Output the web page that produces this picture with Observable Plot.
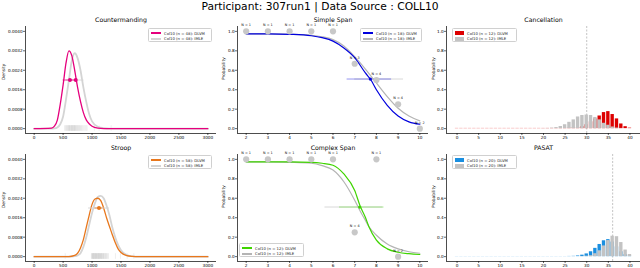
<!DOCTYPE html>
<html><head><meta charset="utf-8">
<script src="https://cdn.jsdelivr.net/npm/d3@7"></script>
<script src="https://cdn.jsdelivr.net/npm/@observablehq/plot@0.6"></script>
<style>
body{margin:0;background:#fff;font-family:"DejaVu Sans",sans-serif;}
#root{position:relative;width:640px;height:268px;overflow:hidden;background:#fff;}
.panel{position:absolute;}
.title{position:absolute;left:0;top:0;width:640px;text-align:center;font-size:10.7px;line-height:13px;color:#000;}
.legend{position:absolute;box-sizing:border-box;height:14px;padding:1.3px 2px;border:0.5px solid #d0d0d0;border-radius:1.5px;background:rgba(255,255,255,0.9);}
.legend .row{display:flex;align-items:center;height:5.7px;white-space:nowrap;font-size:3.8px;color:#222;}
.legend .sw{width:10px;margin-right:3px;flex:none;}
</style></head>
<body><div id="root"></div>
<script>
// ---------------- data ----------------
const mainTitle = "Participant: 307run1 | Data Source : COLL10";
const panelTitles = ["Countermanding", "Simple Span", "Cancellation", "Stroop", "Complex Span", "PASAT"];
const legendLabels = {
  cm: ["Col10 (n = 48): DLVM", "Col10 (n = 48): IMLE"],
  ss: ["Col10 (n = 18): DLVM", "Col10 (n = 18): IMLE"],
  ca: ["Col10 (n = 12): DLVM", "Col10 (n = 12): IMLE"],
  st: ["Col10 (n = 58): DLVM", "Col10 (n = 58): IMLE"],
  cs: ["Col10 (n = 12): DLVM", "Col10 (n = 12): IMLE"],
  pa: ["Col10 (n = 20): DLVM", "Col10 (n = 20): IMLE"]
};
const rtTicks = [0, 500, 1000, 1500, 2000, 2500, 3000];
const densityTicks = [0, 0.0008, 0.0016, 0.0024, 0.0032, 0.0040];
const spanTicks = [2, 3, 4, 5, 6, 7, 8, 9, 10];
const probTicks = [0, 0.2, 0.4, 0.6, 0.8, 1.0];
const scoreTicks = [0, 5, 10, 15, 20, 25, 30, 35, 40];

// Countermanding densities
const cmGrid = [0, 300, 350, 400, 450, 500, 550, 600, 650, 700, 750, 800, 850, 900, 950, 1000, 1100, 1200, 1300, 3000];
const cmDLVM = [0, 0.00002, 0.0001, 0.00035, 0.001, 0.0018, 0.0027, 0.0032, 0.003, 0.0024, 0.0017, 0.00112, 0.00066, 0.00036, 0.0002, 0.0001, 0.00002, 0, 0, 0];
const cmIMLE = [0, 0, 0.00001, 0.00005, 0.00018, 0.0005, 0.0012, 0.002, 0.0028, 0.0031, 0.0029, 0.0024, 0.0017, 0.0011, 0.0006, 0.0003, 0.00008, 0.00002, 0, 0];
const cmRT = [525, 540, 552, 560, 571, 580, 588, 597, 603, 605, 611, 618, 626, 633, 640, 646, 652, 655, 660, 667, 673, 680, 688, 694, 700, 701, 709, 716, 724, 733, 741, 750, 758, 768, 777, 786, 796, 806, 818, 830, 845, 862, 880, 898, 914, 1040, 1122, 1330];
const cmErr = [{model: "IMLE", lo: 560, hi: 860, y: 0.002}, {model: "DLVM", lo: 500, hi: 730, y: 0.002}];
const cmMean = [{x: 618, y: 0.002}, {x: 718, y: 0.002}];

// Stroop densities
const stGrid = [0, 600, 700, 750, 800, 850, 900, 950, 1000, 1050, 1100, 1150, 1200, 1250, 1300, 1350, 1400, 1450, 1500, 1600, 1700, 1800, 3000];
const stDLVM = [0, 0, 0.00005, 0.00014, 0.00036, 0.0007, 0.0012, 0.0017, 0.00215, 0.00237, 0.0024, 0.0023, 0.002, 0.0016, 0.00125, 0.0009, 0.00058, 0.00032, 0.00017, 0.00004, 0.00001, 0, 0];
const stIMLE = [0, 0, 0.00002, 0.00005, 0.00014, 0.0004, 0.0008, 0.0013, 0.0018, 0.0022, 0.00245, 0.0025, 0.0024, 0.0021, 0.0017, 0.0012, 0.0008, 0.00048, 0.00026, 0.00006, 0.00001, 0, 0];
const stRT = [537, 988, 995, 1001, 1008, 1011, 1013, 1019, 1024, 1027, 1030, 1036, 1041, 1047, 1052, 1055, 1058, 1063, 1069, 1074, 1078, 1080, 1086, 1091, 1097, 1103, 1108, 1111, 1114, 1120, 1126, 1132, 1135, 1138, 1144, 1150, 1157, 1160, 1163, 1170, 1177, 1184, 1191, 1195, 1199, 1207, 1216, 1225, 1235, 1240, 1246, 1258, 1270, 1283, 1404, 1491, 1607, 1722];
const stErr = [{model: "IMLE", lo: 940, hi: 1300, y: 0.002}, {model: "DLVM", lo: 1050, hi: 1190, y: 0.002}];
const stMean = [{x: 1120, y: 0.002}];

// Simple Span
const ssGrid = [2, 3, 4, 5, 5.5, 6, 6.5, 7, 7.5, 7.75, 8, 8.5, 9, 9.5, 10];
const ssDLVM = [0.975, 0.975, 0.97, 0.955, 0.935, 0.9, 0.83, 0.73, 0.57, 0.5, 0.4, 0.24, 0.13, 0.07, 0.045];
const ssIMLE = [0.975, 0.975, 0.97, 0.96, 0.945, 0.915, 0.85, 0.74, 0.61, 0.54, 0.47, 0.33, 0.21, 0.13, 0.08];
const ssSpan = [2, 3, 4, 5, 6, 7, 8, 9, 10];
const ssProp = [1, 1, 1, 1, 1, 0.667, 0.5, 0.25, 0];
const ssN = [1, 1, 1, 1, 1, 3, 4, 4, 2];
const ssErr = [{model: "IMLE", lo: 7.0, hi: 9.25, y: 0.51}, {model: "DLVM", lo: 6.65, hi: 8.7, y: 0.51}];
const ssMean = [{x: 7.72, y: 0.51}];

// Complex Span
const csGrid = [2, 3, 4, 5, 5.5, 6, 6.5, 7, 7.25, 7.5, 7.65, 8, 8.5, 9, 9.5, 10];
const csDLVM = [0.975, 0.975, 0.975, 0.97, 0.96, 0.94, 0.85, 0.68, 0.52, 0.4, 0.31, 0.17, 0.08, 0.045, 0.03, 0.022];
const csIMLE = [0.975, 0.975, 0.97, 0.96, 0.935, 0.89, 0.77, 0.58, 0.47, 0.37, 0.31, 0.22, 0.13, 0.08, 0.05, 0.035];
const csSpan = [2, 3, 4, 5, 6, 7, 8, 9];
const csProp = [1, 1, 1, 1, 1, 0.25, 1, 0];
const csN = [1, 1, 1, 1, 1, 4, 1, 2];
const csErr = [{model: "IMLE", lo: 5.63, hi: 8.3, y: 0.51}, {model: "DLVM", lo: 6.3, hi: 8.35, y: 0.51}];
const csMean = [{x: 7.23, y: 0.51}];

// Cancellation (probability per score 0..40)
const scores = d3.range(0, 41);
const caDLVM = [0.002,0.002,0.002,0.002,0.002,0.002,0.002,0.002,0.002,0.002,0.002,0.002,0.002,0.002,0.002,0.002,0.002,0.002,0.002,0.002,0.002,0.002,0.002,0.002,0.002,0.003,0.004,0.006,0.01,0.02,0.04,0.07,0.1,0.13,0.165,0.175,0.145,0.1,0.048,0.02,0.005];
const caIMLE = [0,0,0,0,0,0,0,0,0,0,0,0,0,0,0,0,0,0,0,0,0.001,0.002,0.005,0.011,0.022,0.04,0.065,0.09,0.12,0.135,0.14,0.135,0.115,0.09,0.055,0.035,0.017,0.006,0.002,0,0];
const caCut = 30;
// PASAT
const paDLVM = [0.001,0.001,0.001,0.001,0.001,0.001,0.001,0.001,0.001,0.001,0.001,0.001,0.001,0.001,0.001,0.001,0.001,0.001,0.001,0.001,0.001,0.001,0.001,0.001,0.001,0.001,0.002,0.003,0.007,0.015,0.028,0.05,0.085,0.125,0.163,0.175,0.15,0.1,0.05,0.02,0.005];
const paIMLE = [0,0,0,0,0,0,0,0,0,0,0,0,0,0,0,0,0,0,0,0,0,0,0,0,0,0,0,0,0,0.002,0.005,0.01,0.03,0.06,0.11,0.165,0.21,0.205,0.145,0.068,0.022];
const paCut = 36;

// ---------------- styles / layout ----------------
const C = {cm: "#e5007d", st: "#e8771c", ss: "#0000dd", cs: "#3fd400", ca: "#dd0000", pa: "#1a8fe0"};
const GRAY_D = "#d4d4d4", GRAY_S = "#b4b4b4", GRAY_B = "#c3c3c3", GRAY_P = "#c8c8c8";
const FONT = "DejaVu Sans";
const rugLo = -0.00011, rugHi = 0.00012, barHalf = 0.39;
const rowTop = [12, 140], rowH = [130, 128], rowMB = [9, 7];
const cols = [
  {left: 0, width: 218, ml: 25, mr: 2},
  {left: 213, width: 217, ml: 24, mr: 2},
  {left: 424, width: 216, ml: 22, mr: 0}
];
const densDom = [-0.0002, 0.0042], probDom = [-0.05, 1.05];
const rtDom = [-150, 3150], spanDom = [1.6, 10.4], scoreDom = [-2.44, 42.44];

const root = document.getElementById("root");
const t = document.createElement("div"); t.className = "title"; t.textContent = mainTitle; root.appendChild(t);

function common(title, ylab, ydx, xDom, yDom, xt, yt, yfmt) {
  return [
    Plot.ruleY([yDom[0]], {stroke: "#000", strokeWidth: 0.7}),
    Plot.ruleX([xDom[0]], {stroke: "#000", strokeWidth: 0.7}),
    Plot.axisX({ticks: xt, tickSize: 2, tickPadding: 0.8, fontSize: 4.2, tickFormat: d => String(d), label: null, strokeWidth: 0.6}),
    Plot.axisY({ticks: yt, tickSize: 2, tickPadding: 0.8, fontSize: 4.2, tickFormat: yfmt, label: null, strokeWidth: 0.6}),
    Plot.text([title], {frameAnchor: "top", dy: -6, fontSize: 6.2, lineAnchor: "middle", fill: "#000"}),
    Plot.text([ylab], {frameAnchor: "left", dx: ydx, rotate: -90, fontSize: 4.3, fill: "#000"})
  ];
}
function place(svg, col, row) {
  const d = document.createElement("div"); d.className = "panel";
  d.style.left = cols[col].left + "px"; d.style.top = rowTop[row] + "px";
  d.appendChild(svg); root.appendChild(d);
}
function frameOpts(col, row, xDom, yDom) {
  return {width: cols[col].width, height: rowH[row], marginLeft: cols[col].ml, marginRight: cols[col].mr,
    marginTop: 14, marginBottom: rowMB[row], x: {domain: xDom}, y: {domain: yDom},
    style: {background: "transparent", overflow: "visible", fontFamily: FONT}};
}
function density(col, row, title, grid, dl, im, rug, errs, means, color) {
  const a = grid.map((x, i) => ({x, y: dl[i]})), b = grid.map((x, i) => ({x, y: im[i]}));
  const svg = Plot.plot({...frameOpts(col, row, rtDom, densDom), marks: [
    Plot.ruleX(rug, {x: d => d, y1: rugLo, y2: rugHi, stroke: "#c4c4c4", strokeWidth: 0.4, strokeOpacity: 0.7}),
    Plot.line(b, {x: "x", y: "y", stroke: GRAY_D, strokeWidth: 1.8, curve: "monotone-x"}),
    Plot.line(a, {x: "x", y: "y", stroke: color, strokeWidth: 1.3, curve: "monotone-x"}),
    Plot.ruleY(errs.filter(d => d.model === "IMLE"), {y: "y", x1: "lo", x2: "hi", stroke: GRAY_D, strokeWidth: 0.9}),
    Plot.ruleY(errs.filter(d => d.model === "DLVM"), {y: "y", x1: "lo", x2: "hi", stroke: color, strokeWidth: 0.8}),
    Plot.dot(means, {x: "x", y: "y", r: 2, fill: color, stroke: "none"}),
    ...common(title, "Density", -22, rtDom, densDom, rtTicks, densityTicks, d3.format(".4f"))
  ]});
  place(svg, col, row);
}
function span(col, row, title, grid, dl, im, xs, ps, ns, errs, means, color, ydx) {
  const a = grid.map((x, i) => ({x, y: dl[i]})), b = grid.map((x, i) => ({x, y: im[i]}));
  const pts = xs.map((x, i) => ({x, y: ps[i], n: ns[i]}));
  const svg = Plot.plot({...frameOpts(col, row, spanDom, probDom), marks: [
    Plot.ruleY(errs.filter(d => d.model === "IMLE"), {y: "y", x1: "lo", x2: "hi", stroke: "#cfcfcf", strokeWidth: 0.8}),
    Plot.ruleY(errs.filter(d => d.model === "DLVM"), {y: "y", x1: "lo", x2: "hi", stroke: color, strokeWidth: 0.7, strokeOpacity: 0.6}),
    Plot.line(b, {x: "x", y: "y", stroke: GRAY_S, strokeWidth: 1.2, curve: "monotone-x"}),
    Plot.line(a, {x: "x", y: "y", stroke: color, strokeWidth: 1.2, curve: "monotone-x"}),
    Plot.dot(pts, {x: "x", y: "y", r: 3.1, fill: GRAY_P, stroke: "none"}),
    Plot.dot(means, {x: "x", y: "y", r: 1.6, fill: color, stroke: "none"}),
    Plot.text(pts, {x: "x", y: "y", text: d => "N = " + d.n, dy: -6, fontSize: 3.4, fill: "#111", stroke: "none"}),
    ...common(title, "Probability", ydx, spanDom, probDom, spanTicks, probTicks, d3.format(".1f"))
  ]});
  place(svg, col, row);
}
function hist(col, row, title, dl, im, cut, color) {
  const a = scores.map((s, i) => ({s, p: dl[i]})), b = scores.map((s, i) => ({s, p: im[i]})).filter(d => d.p > 0);
  const svg = Plot.plot({...frameOpts(col, row, scoreDom, probDom), marks: [
    Plot.ruleX([cut], {stroke: "#aaa", strokeWidth: 0.7, strokeDasharray: "2,1.5"}),
    Plot.rectY(a, {x1: d => d.s - barHalf, x2: d => d.s + barHalf, y: "p", fill: color, fillOpacity: 1}),
    Plot.rectY(b, {x1: d => d.s - barHalf, x2: d => d.s + barHalf, y: "p", fill: GRAY_B}),
    ...common(title, "Probability", -13, scoreDom, probDom, scoreTicks, probTicks, d3.format(".1f"))
  ]});
  place(svg, col, row);
}
function legend(left, top, width, labels, color, gray, patch) {
  const d = document.createElement("div"); d.className = "legend";
  d.style.left = left + "px"; d.style.top = top + "px"; d.style.width = width + "px";
  [[labels[0], color], [labels[1], gray]].forEach(([lab, c]) => {
    const r = document.createElement("div"); r.className = "row";
    const s = document.createElement("span"); s.className = "sw";
    s.style.height = patch ? "3.4px" : "1.4px"; s.style.background = c;
    if (patch) s.style.width = "9px";
    const tx = document.createElement("span"); tx.textContent = lab;
    r.appendChild(s); r.appendChild(tx); d.appendChild(r);
  });
  root.appendChild(d);
}

density(0, 0, panelTitles[0], cmGrid, cmDLVM, cmIMLE, cmRT, cmErr, cmMean, C.cm);
span(1, 0, panelTitles[1], ssGrid, ssDLVM, ssIMLE, ssSpan, ssProp, ssN, ssErr, ssMean, C.ss, -14);
hist(2, 0, panelTitles[2], caDLVM, caIMLE, caCut, C.ca);
density(0, 1, panelTitles[3], stGrid, stDLVM, stIMLE, stRT, stErr, stMean, C.st);
span(1, 1, panelTitles[4], csGrid, csDLVM, csIMLE, csSpan, csProp, csN, csErr, csMean, C.cs, -14);
hist(2, 1, panelTitles[5], paDLVM, paIMLE, paCut, C.pa);

legend(148, 28, 64, legendLabels.cm, C.cm, GRAY_D, false);
legend(360, 28, 62, legendLabels.ss, C.ss, GRAY_S, false);
legend(452, 28, 65, legendLabels.ca, C.ca, GRAY_B, true);
legend(148, 155, 64, legendLabels.st, C.st, GRAY_D, false);
legend(239, 243, 65, legendLabels.cs, C.cs, GRAY_S, false);
legend(452, 155, 65, legendLabels.pa, C.pa, GRAY_B, true);
</script>
</body></html>
